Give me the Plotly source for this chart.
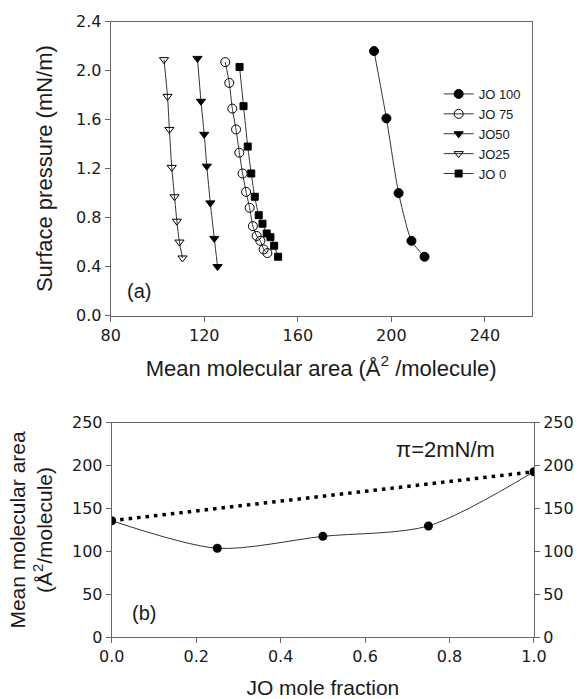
import plotly.graph_objects as go

# ---- Panel (a) data: mean molecular area (Å²/molecule) vs surface pressure (mN/m)
jo100_x = [192.6, 197.9, 203.1, 208.6, 214.2]
jo100_y = [2.16, 1.61, 1.00, 0.61, 0.48]

jo75_x = [129.0, 130.7, 132.0, 133.6, 135.0, 136.4, 137.9, 139.4, 140.8, 142.4, 144.0, 145.4, 147.0]
jo75_y = [2.07, 1.90, 1.69, 1.52, 1.33, 1.16, 1.01, 0.88, 0.73, 0.65, 0.61, 0.54, 0.51]

jo50_x = [117.1, 118.6, 120.0, 121.1, 122.6, 124.3, 125.7]
jo50_y = [2.10, 1.75, 1.48, 1.22, 0.92, 0.63, 0.40]

jo25_x = [102.8, 104.3, 105.1, 106.1, 107.3, 108.3, 109.4, 110.7]
jo25_y = [2.09, 1.79, 1.52, 1.21, 0.97, 0.77, 0.60, 0.47]

jo0_x = [135.1, 136.8, 138.6, 140.1, 141.6, 143.3, 144.9, 146.7, 148.3, 149.9, 151.6]
jo0_y = [2.03, 1.71, 1.38, 1.16, 0.97, 0.82, 0.75, 0.67, 0.64, 0.57, 0.48]

# ---- Panel (b) data: mean molecular area at pi = 2 mN/m vs JO mole fraction
frac = [0.0, 0.25, 0.5, 0.75, 1.0]
area = [135.8, 103.7, 117.6, 129.7, 192.9]
ideal_x = [0.0, 1.0]
ideal_y = [135.8, 192.9]

a_xticks = [80, 120, 160, 200, 240]
a_yticks = [0.0, 0.4, 0.8, 1.2, 1.6, 2.0, 2.4]
b_xticks = [0.0, 0.2, 0.4, 0.6, 0.8, 1.0]
b_yticks = [0, 50, 100, 150, 200, 250]

FONT = "Arial, Liberation Sans, sans-serif"
TICKFONT = "DejaVu Sans, sans-serif"
LINE = "#333333"
AX = "#666666"
TXT = "#1a1a1a"

fig = go.Figure()

series = [
    ("JO 100", jo100_x, jo100_y, "circle", 9),
    ("JO 75", jo75_x, jo75_y, "circle-open", 9),
    ("JO50", jo50_x, jo50_y, "triangle-down", 8),
    ("JO25", jo25_x, jo25_y, "triangle-down-open", 8),
    ("JO 0", jo0_x, jo0_y, "square", 7),
]
for name, xs, ys, sym, sz in series:
    fig.add_trace(go.Scatter(
        x=xs, y=ys, name=name, mode="lines+markers",
        line=dict(color=LINE, width=1, shape="spline", smoothing=0.6),
        marker=dict(symbol=sym, size=sz, color="black",
                    line=dict(color="black", width=1)),
        xaxis="x", yaxis="y",
    ))

fig.add_trace(go.Scatter(
    x=ideal_x, y=ideal_y, mode="lines", showlegend=False,
    line=dict(color="black", width=3.5, dash="3.5px,5px"),
    xaxis="x2", yaxis="y2",
))
fig.add_trace(go.Scatter(
    x=frac, y=area, mode="lines+markers", showlegend=False,
    line=dict(color=LINE, width=1, shape="spline", smoothing=0.8),
    marker=dict(symbol="circle", size=9, color="black"),
    xaxis="x2", yaxis="y2",
))
# invisible trace to activate the right-hand axis
fig.add_trace(go.Scatter(
    x=frac, y=area, mode="markers", showlegend=False, hoverinfo="skip",
    marker=dict(size=1, opacity=0),
    xaxis="x2", yaxis="y3",
))

axis_common = dict(
    showgrid=False, zeroline=False, showline=True, linecolor=AX, linewidth=1,
    ticks="outside", ticklen=5, tickcolor=AX, automargin=False,
    tickfont=dict(family=TICKFONT, size=16, color=TXT),
)

fig.update_layout(
    width=581, height=699,
    margin=dict(l=0, r=0, t=0, b=0, autoexpand=False),
    paper_bgcolor="white", plot_bgcolor="white",
    font=dict(family=FONT, color=TXT),
    showlegend=True,
    legend=dict(x=0.755, y=0.887, xanchor="left", yanchor="top",
                font=dict(family=FONT, size=13, color=TXT),
                bgcolor="rgba(0,0,0,0)", tracegroupgap=0, itemwidth=30),
    xaxis=dict(axis_common, domain=[0.1905, 0.9151], anchor="y",
               range=[80, 260], tickvals=a_xticks, mirror=True,
               title=dict(text="Mean molecular area (Å<sup>2</sup> /molecule)",
                          font=dict(family=FONT, size=22), standoff=16)),
    yaxis=dict(axis_common, domain=[0.5486, 0.9690], anchor="x",
               range=[0, 2.4], tickvals=a_yticks, tickformat=".1f", mirror=True,
               title=dict(text="Surface pressure (mN/m)",
                          font=dict(family=FONT, size=22), standoff=17)),
    xaxis2=dict(axis_common, domain=[0.1923, 0.9191], anchor="y2",
                range=[0, 1], tickvals=b_xticks, tickformat=".1f", mirror=True,
                title=dict(text="JO mole fraction",
                           font=dict(family=FONT, size=21), standoff=14)),
    yaxis2=dict(axis_common, domain=[0.0883, 0.3953], anchor="x2",
                range=[0, 250], tickvals=b_yticks,
                title=dict(text="Mean molecular area<br>(Å<sup>2</sup>/molecule)",
                           font=dict(family=FONT, size=21), standoff=13)),
    yaxis3=dict(axis_common, overlaying="y2", side="right", anchor="x2",
                range=[0, 250], tickvals=b_yticks),
    annotations=[
        dict(text="(a)", x=92.1, y=0.20, xref="x", yref="y", showarrow=False,
             font=dict(family=FONT, size=20, color=TXT)),
        dict(text="(b)", x=0.076, y=28, xref="x2", yref="y2", showarrow=False,
             font=dict(family=FONT, size=20, color=TXT)),
        dict(text="π=2mN/m", x=0.79, y=219, xref="x2", yref="y2", showarrow=False,
             font=dict(family=FONT, size=22, color=TXT)),
    ],
)

fig.write_html(
    "out.html",
    config={"displayModeBar": False},
    post_script="document.body.style.margin='0px';"
                "document.documentElement.style.overflow='hidden';",
)
